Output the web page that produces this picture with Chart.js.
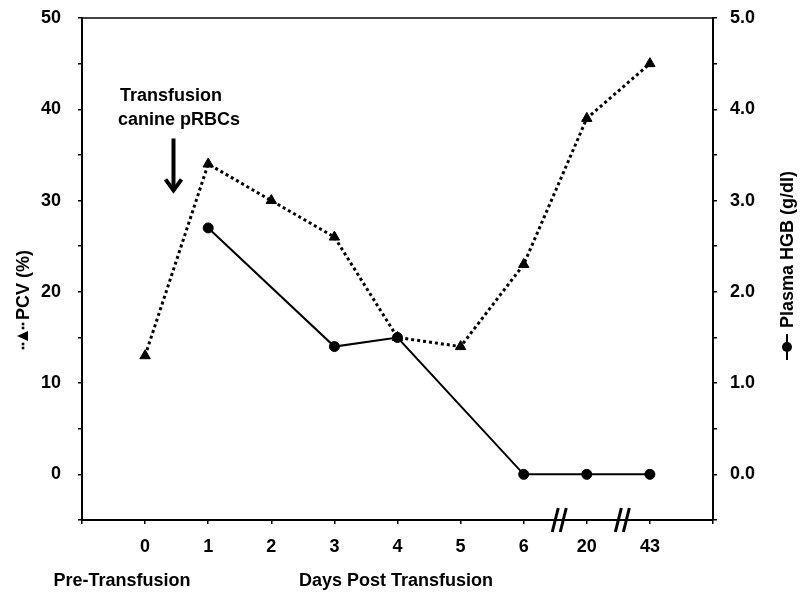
<!DOCTYPE html>
<html>
<head>
<meta charset="utf-8">
<script src="https://cdn.jsdelivr.net/npm/chart.js@4.4.1/dist/chart.umd.min.js"></script>
<style>
  body { margin: 0; background: #fff; }
  #wrap { width: 800px; height: 599px; position: relative; }
</style>
</head>
<body>
<div id="wrap"><canvas id="chart"></canvas></div>
<script>
// days (blank slots at both ends leave room like the original)
const days = ['', '0', '1', '2', '3', '4', '5', '6', '20', '43', ''];
const pcv = [null, 13, 34, 30, 26, 15, 14, 23, 39, 45, null];
const hgb = [null, null, 2.7, null, 1.4, 1.5, null, 0.0, 0.0, 0.0, null];

const FONT = '"Liberation Sans", Arial, sans-serif';
const boldFont = { family: FONT, size: 18, weight: 'bold' };

// extra drawing: top border, break marks, arrow note, axis titles
const extras = {
  id: 'extras',
  afterDraw(chart) {
    const ctx = chart.ctx;
    const a = chart.chartArea;
    const x = chart.scales.x;
    const y = chart.scales.y;
    ctx.save();

    // top border
    ctx.strokeStyle = '#000';
    ctx.lineWidth = 1.5;
    ctx.beginPath();
    ctx.moveTo(a.left, a.top);
    ctx.lineTo(a.right, a.top);
    ctx.stroke();

    // axis break marks "//"
    ctx.lineWidth = 3;
    [[7, 8], [8, 9]].forEach(([i, j]) => {
      const cx = (x.getPixelForValue(i) + x.getPixelForValue(j)) / 2 + 4;
      [-4, 4].forEach(dx => {
        ctx.beginPath();
        ctx.moveTo(cx + dx + 3, a.bottom - 12);
        ctx.lineTo(cx + dx - 3, a.bottom + 12);
        ctx.stroke();
      });
    });

    // transfusion note + arrow
    ctx.fillStyle = '#000';
    ctx.font = 'bold 18px ' + FONT;
    ctx.textBaseline = 'middle';
    ctx.textAlign = 'left';
    const tx = x.getPixelForValue(1) - 25;
    ctx.fillText('Transfusion', tx, y.getPixelForValue(41.4));
    ctx.fillText('canine pRBCs', tx - 2, y.getPixelForValue(38.8));
    const ax = x.getPixelForValue(1) + 0.45 * (x.getPixelForValue(2) - x.getPixelForValue(1));
    const ay0 = y.getPixelForValue(36.8), ay1 = y.getPixelForValue(30.9);
    ctx.lineWidth = 4;
    ctx.beginPath();
    ctx.moveTo(ax, ay0);
    ctx.lineTo(ax, ay1 - 3);
    ctx.stroke();
    ctx.lineJoin = 'miter';
    ctx.beginPath();
    ctx.moveTo(ax - 8, ay1 - 13);
    ctx.lineTo(ax, ay1 - 2);
    ctx.lineTo(ax + 8, ay1 - 13);
    ctx.stroke();

    // bottom captions
    ctx.textAlign = 'center';
    ctx.fillText('Pre-Transfusion', 122, 581);
    ctx.fillText('Days Post Transfusion', 396, 581);

    // left title: dotted line with triangle, then text
    ctx.save();
    ctx.translate(23, 298);
    ctx.rotate(-Math.PI / 2);
    ctx.textAlign = 'left';
    ctx.fillText('PCV (%)', -22, 1);
    [-50, -46, -30, -26].forEach(d => {
      ctx.fillRect(d - 1.3, -1.3, 2.6, 2.6);
    });
    ctx.beginPath();
    ctx.moveTo(-38, -6); ctx.lineTo(-33, 5); ctx.lineTo(-43, 5); ctx.closePath();
    ctx.fill();
    ctx.restore();

    // right title: solid line with circle, then text
    ctx.save();
    ctx.translate(787, 266);
    ctx.rotate(-Math.PI / 2);
    ctx.textAlign = 'left';
    ctx.fillText('Plasma HGB (g/dl)', -62, 1);
    ctx.lineWidth = 2;
    ctx.beginPath(); ctx.moveTo(-94, 0); ctx.lineTo(-68, 0); ctx.stroke();
    ctx.beginPath(); ctx.arc(-81, 0, 5, 0, Math.PI * 2); ctx.fill();
    ctx.restore();

    ctx.restore();
  }
};

new Chart(document.getElementById('chart'), {
  type: 'line',
  data: {
    labels: days,
    datasets: [
      {
        label: 'PCV (%)',
        data: pcv,
        yAxisID: 'y',
        borderColor: '#000',
        backgroundColor: '#000',
        borderWidth: 3,
        borderDash: [3, 3],
        borderCapStyle: 'butt',
        pointStyle: 'triangle',
        pointRadius: 6,
        pointBorderWidth: 1,
        spanGaps: true,
        tension: 0
      },
      {
        label: 'Plasma HGB (g/dl)',
        data: hgb,
        yAxisID: 'y1',
        borderColor: '#000',
        backgroundColor: '#000',
        borderWidth: 2,
        pointStyle: 'circle',
        pointRadius: 5,
        pointBorderWidth: 1,
        spanGaps: true,
        tension: 0
      }
    ]
  },
  options: {
    responsive: true,
    maintainAspectRatio: false,
    animation: false,
    layout: { padding: { top: 18, left: 0, right: 0, bottom: 0 } },
    plugins: { legend: { display: false }, tooltip: { enabled: false } },
    scales: {
      x: {
        type: 'category',
        offset: false,
        grid: { drawOnChartArea: false, tickLength: 4, color: '#000', lineWidth: 1.5 },
        border: { color: '#000', width: 2 },
        ticks: { font: boldFont, color: '#000', padding: 12, maxRotation: 0, autoSkip: false },
        afterFit(s) { s.height = 79; s.paddingLeft = 0; s.paddingRight = 0; }
      },
      y: {
        position: 'left',
        min: -5,
        max: 50,
        grid: { drawOnChartArea: false, tickLength: 4, color: '#000', lineWidth: 1.5 },
        border: { color: '#000', width: 2 },
        ticks: {
          stepSize: 5,
          font: boldFont,
          color: '#000',
          padding: 17,
          callback: v => (v >= 0 && v % 10 === 0) ? String(v) : ''
        },
        afterFit(s) { s.width = 82; s.paddingTop = 0; s.paddingBottom = 0; }
      },
      y1: {
        position: 'right',
        min: -0.5,
        max: 5,
        grid: { drawOnChartArea: false, tickLength: 4, color: '#000', lineWidth: 1.5 },
        border: { color: '#000', width: 2 },
        ticks: {
          stepSize: 0.5,
          font: boldFont,
          color: '#000',
          padding: 13,
          callback: v => (v >= 0 && Math.abs(v - Math.round(v)) < 1e-6) ? v.toFixed(1) : ''
        },
        afterFit(s) { s.width = 87; s.paddingTop = 0; s.paddingBottom = 0; }
      }
    }
  },
  plugins: [extras]
});
</script>
</body>
</html>
